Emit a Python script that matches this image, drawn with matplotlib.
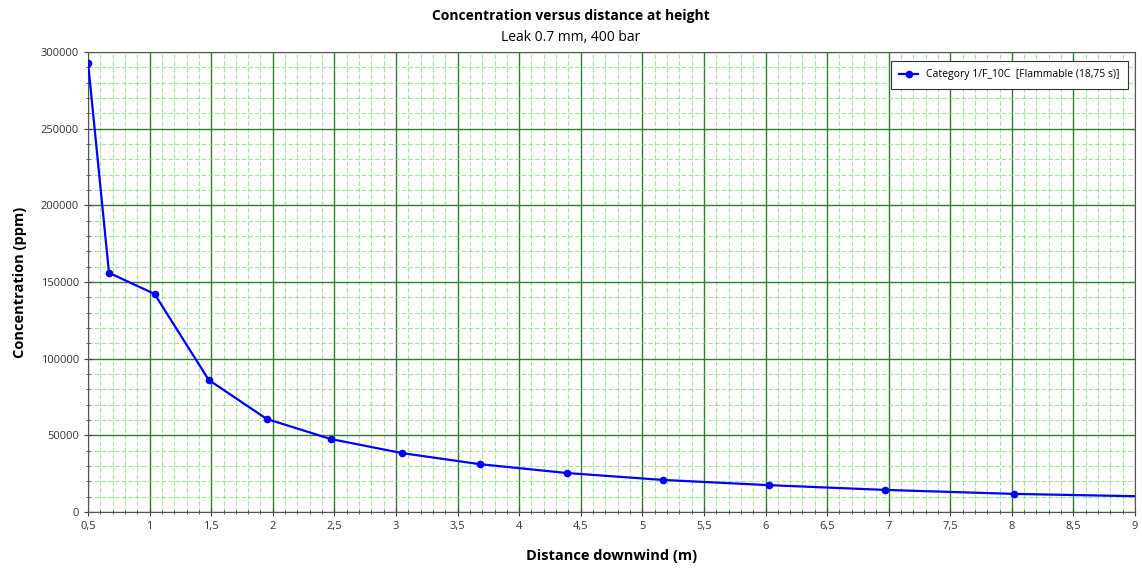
import matplotlib.pyplot as plt
from matplotlib.ticker import MultipleLocator, FuncFormatter

plt.rcParams['font.family'] = ['Open Sans', 'DejaVu Sans']

# values
distance = [0.5, 0.67, 1.04, 1.48, 1.95, 2.47, 3.05, 3.68, 4.39, 5.17, 6.03, 6.97, 8.02, 9.2]
concentration = [293000, 156000, 142200, 86100, 60700, 47600, 38400, 31200, 25400, 20900,
                 17500, 14400, 11800, 10000]
series_label = "Category 1/F_10C  [Flammable (18,75 s)]"

fig = plt.figure(figsize=(11.42, 5.72), dpi=100)
ax = fig.add_axes([0.0771, 0.1049, 0.9168, 0.8042])

ax.plot(distance, concentration, color='#0000ff', lw=1.6, marker='o', ms=4.5,
        markevery=list(range(len(distance) - 1)), label=series_label, zorder=3)

ax.set_xlim(0.5, 9)
ax.set_ylim(0, 300000)
ax.xaxis.set_major_locator(MultipleLocator(0.5))
ax.xaxis.set_minor_locator(MultipleLocator(0.1))
ax.yaxis.set_major_locator(MultipleLocator(50000))
ax.yaxis.set_minor_locator(MultipleLocator(10000))
ax.xaxis.set_major_formatter(FuncFormatter(lambda v, p: ('%g' % v).replace('.', ',')))
ax.yaxis.set_major_formatter(FuncFormatter(lambda v, p: '%d' % v))

ax.grid(which='major', color='#2f7f2f', lw=1.0)
ax.grid(which='minor', color='#80e07a', lw=0.8, alpha=0.75, ls=(0, (4, 2)))
ax.set_axisbelow(True)

for s in ax.spines.values():
    s.set_color('#555555')
ax.tick_params(which='major', direction='inout', length=6, color='#444444',
               labelsize=8, labelcolor='#333333')
ax.tick_params(which='minor', direction='inout', length=3, color='#444444')

ax.set_xlabel('Distance downwind (m)', fontsize=10.5, fontweight='bold', labelpad=12)
ax.set_ylabel('Concentration (ppm)', fontsize=10.5, fontweight='bold', labelpad=10)

fig.text(0.5, 0.965, 'Concentration versus distance at height', ha='center',
         fontsize=10, fontweight='bold')
fig.text(0.5, 0.928, 'Leak 0.7 mm, 400 bar', ha='center', fontsize=10)

leg = ax.legend(loc='upper right', fontsize=7.5, fancybox=False, framealpha=1,
                edgecolor='#333333', borderpad=0.8, handlelength=1.8,
                bbox_to_anchor=(0.9985, 0.992))
leg.get_frame().set_linewidth(0.8)

fig.savefig('out.png', dpi=100)
